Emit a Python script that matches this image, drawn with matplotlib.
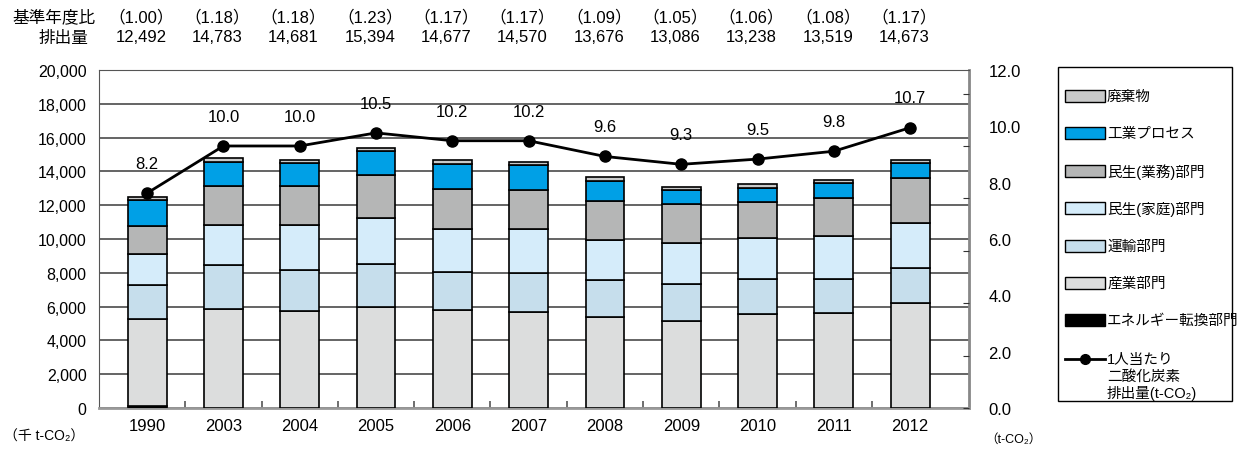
import numpy as np
import matplotlib
matplotlib.use('Agg')
import matplotlib.pyplot as plt
import matplotlib.transforms as mtransforms
from matplotlib.patches import Rectangle
from matplotlib.lines import Line2D

plt.rcParams['font.family'] = ['Liberation Sans', 'Noto Sans CJK JP', 'DejaVu Sans']

# --- data (千 t-CO2) ---
years = ['1990', '2003', '2004', '2005', '2006', '2007', '2008', '2009', '2010', '2011', '2012']
ratio = ['1.00', '1.18', '1.18', '1.23', '1.17', '1.17', '1.09', '1.05', '1.06', '1.08', '1.17']
total = [12492, 14783, 14681, 15394, 14677, 14570, 13676, 13086, 13238, 13519, 14673]
energy = [90, 20, 20, 20, 20, 20, 20, 20, 20, 20, 20]
industry = [5176, 5838, 5720, 5974, 5758, 5680, 5384, 5128, 5542, 5601, 6193]
transport = [1994, 2603, 2444, 2506, 2288, 2268, 2188, 2209, 2050, 2030, 2053]
household = [1833, 2367, 2644, 2761, 2526, 2624, 2349, 2406, 2447, 2527, 2684]
commercial = [1694, 2290, 2302, 2526, 2345, 2308, 2314, 2337, 2130, 2272, 2641]
process = [1513, 1465, 1351, 1397, 1530, 1450, 1201, 786, 849, 889, 892]
waste = [192, 200, 200, 210, 210, 220, 220, 200, 200, 180, 190]
per_capita = [8.2, 10.0, 10.0, 10.5, 10.2, 10.2, 9.6, 9.3, 9.5, 9.8, 10.7]

series = [
    ('エネルギー転換部門', energy, '#000000'),
    ('産業部門', industry, '#dcdddd'),
    ('運輸部門', transport, '#c6deec'),
    ('民生(家庭)部門', household, '#d5ecfa'),
    ('民生(業務)部門', commercial, '#b5b6b6'),
    ('工業プロセス', process, '#00a0e6'),
    ('廃棄物', waste, '#c9caca'),
]

W, H = 1241, 452
fig = plt.figure(figsize=(W / 100, H / 100), dpi=100)
ax = fig.add_axes([99 / W, 1 - 409 / H, 870 / W, 338 / H])

x = np.arange(len(years))
bottom = np.zeros(len(years))
for name, vals, col in series:
    ax.bar(x, vals, 0.51, bottom=bottom, color=col, edgecolor='black', linewidth=1.2, zorder=3)
    bottom += np.array(vals)

ax.set_xlim(-0.63, 10.77)
ax.set_ylim(0, 20000)
ax.set_yticks(np.arange(0, 20001, 2000))
ax.set_yticklabels([f'{v:,}' for v in range(0, 20001, 2000)], fontsize=11.5)
ax.yaxis.grid(True, color='#3a3a3a', linewidth=1.1, zorder=0)
ax.set_axisbelow(True)
ax.tick_params(axis='y', length=0, pad=9)
ax.set_xticks(x)
ax.set_xticklabels(years, fontsize=12)
ax.tick_params(axis='x', length=0, pad=7)
ax.set_xticks(x[:-1] + 0.5, minor=True)
ax.tick_params(axis='x', which='minor', direction='in', length=5, color='#555555', width=1.2)
for s in ['left', 'top']:
    ax.spines[s].set_color('#555555')
ax.spines['bottom'].set_color('#999999')
ax.spines['bottom'].set_linewidth(2)
ax.spines['right'].set_color('#888888')
ax.spines['right'].set_linewidth(2)

# per-capita line
ax2 = ax.twinx()
ax2.set_ylim(0, 12.9)
ax2.plot(x, per_capita, '-o', color='black', linewidth=2, markersize=8, zorder=5)
for xi, v in zip(x, per_capita):
    ax2.annotate(f'{v:.1f}', (xi, v), xytext=(0, 16), textcoords='offset points',
                 ha='center', va='bottom', fontsize=12)
ax2.set_yticks(np.arange(0, 13, 2))
ax2.tick_params(axis='y', direction='in', length=4, labelright=False, color='#333333')
for s in ax2.spines.values():
    s.set_visible(False)

ax3 = ax.twinx()
ax3.set_ylim(0, 12)
ax3.set_yticks(np.arange(0, 13, 2))
ax3.set_yticklabels([f'{v:.1f}' for v in range(0, 13, 2)], fontsize=12)
ax3.tick_params(axis='y', length=0, pad=14)
for s in ax3.spines.values():
    s.set_visible(False)

# header rows
trans = mtransforms.blended_transform_factory(ax.transData, fig.transFigure)
for xi, r, t in zip(x, ratio, total):
    ax.text(xi - 0.08, 1 - 17 / H, f'（{r}）', transform=trans, ha='center', va='center', fontsize=12)
    ax.text(xi - 0.08, 1 - 38 / H, f'{t:,}', transform=trans, ha='center', va='center', fontsize=12)
fig.text(12 / W, 1 - 17 / H, '基準年度比', ha='left', va='center', fontsize=12)
fig.text(63 / W, 1 - 38 / H, '排出量', ha='center', va='center', fontsize=12)

fig.text(4 / W, 1 - 437 / H, '（千 t-CO₂）', ha='left', va='center', fontsize=10)
fig.text(985 / W, 1 - 440 / H, '（t-CO₂）', ha='left', va='center', fontsize=9)

# legend
fig.add_artist(Rectangle((1058 / W, 1 - 402 / H), 174 / W, 334 / H, transform=fig.transFigure,
                         fill=False, edgecolor='black', linewidth=1))
for i, (name, vals, col) in enumerate(series[::-1]):
    yc = 97 + i * 37.4
    fig.add_artist(Rectangle((1065 / W, 1 - (yc + 6) / H), 40 / W, 12 / H, transform=fig.transFigure,
                             facecolor=col, edgecolor='black', linewidth=1))
    fig.text(1107 / W, 1 - yc / H, name, ha='left', va='center', fontsize=10.5)
fig.add_artist(Line2D([1065 / W, 1105 / W], [1 - 360 / H, 1 - 360 / H], transform=fig.transFigure,
                      color='black', linewidth=2))
fig.add_artist(Line2D([1085 / W], [1 - 360 / H], transform=fig.transFigure,
                      color='black', marker='o', markersize=7))
for j, line in enumerate(['1人当たり', '二酸化炭素', '排出量(t-CO₂)']):
    fig.text(1107 / W, 1 - (360 + j * 17) / H, line, ha='left', va='center', fontsize=10.5)

fig.savefig('out.png', dpi=100)
